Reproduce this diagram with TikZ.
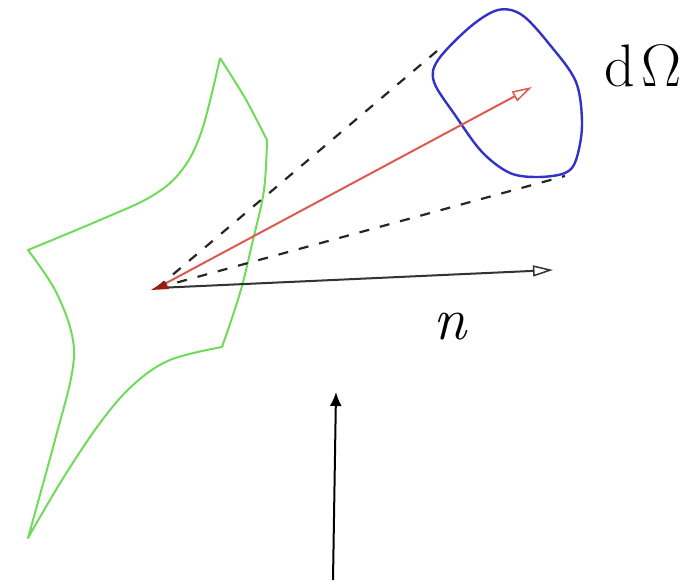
\documentclass[tikz,border=0pt]{standalone}
\usepackage{fontspec}
\usetikzlibrary{arrows.meta}
\definecolor{shapegreen}{RGB}{110,220,90}
\definecolor{loopblue}{RGB}{50,50,200}
\definecolor{rayred}{RGB}{220,90,80}
\definecolor{darkred}{RGB}{150,30,20}
\tikzset{
  surface/.style={draw=shapegreen, line width=2pt, line join=round},
  solidloop/.style={draw=loopblue, line width=2.4pt},
  cone/.style={draw=black!85, line width=2.2pt, dash pattern=on 10pt off 11pt},
  rayarrow/.style={draw=rayred, line width=2pt, -{Triangle[open, length=20pt, width=11pt, line width=1.5pt]}},
  normalarrow/.style={draw=black!80, line width=2pt, -{Triangle[open, length=20pt, width=11pt, line width=1.5pt, fill=white]}},
  pointer/.style={draw=black, line width=2pt, -{Latex[length=14pt, width=12pt]}},
  biglabel/.style={inner sep=0pt, font=\fontsize{60}{60}\selectfont},
}
\begin{document}
\begin{tikzpicture}[x=1pt, y=-1pt]
\useasboundingbox (0,0) rectangle (698,585);
% named points
\coordinate (O) at (157,288);
\coordinate (rayend) at (532,87);
\coordinate (nend) at (553,270);
\coordinate (coneA) at (437,51);
\coordinate (coneB) at (565,176);
\coordinate (pbot) at (333,580);
\coordinate (ptop) at (336,392);
% green surface
\draw[surface]
  plot[smooth, tension=0.5] coordinates {(220,58) (245,98) (267,140)}
  -- plot[smooth, tension=0.6] coordinates {(267,140) (264,190) (253,240) (240,293) (222,347)}
  -- plot[smooth, tension=0.6] coordinates {(222,347) (170,360) (133,385) (100,423) (62,480) (28,538)}
  -- plot[smooth, tension=0.6] coordinates {(28,538) (55,440) (72,373) (72,335) (55,290) (28,250)}
  -- plot[smooth, tension=0.6] coordinates {(28,250) (100,220) (152,196) (182,170) (202,130) (220,58)};
% blue solid angle loop
\draw[solidloop] plot[smooth cycle, tension=0.55] coordinates {
  (498,10) (522,15) (550,45) (576,82) (582,125) (576,160) (565,173)
  (538,177) (510,173) (482,152) (455,115) (434,82) (438,60) (470,27)};
% cone lines
\draw[cone] (O) -- (coneA);
\draw[cone] (O) -- (coneB);
% arrows
\draw[normalarrow] (O) -- (nend);
\draw[rayarrow] (O) -- (rayend);
\fill[darkred] (O) ++(-6,2) -- ++(14,-9) -- ++(4,8) -- cycle;
% labels
\node[biglabel] (dOmega) at (643,66) {d\kern0.1em Ω};
\node[biglabel, font=\fontsize{60}{60}\selectfont\itshape] (nlabel) at (450,327) {n};
% pointer arrow
\draw[pointer] (pbot) -- (ptop);
\end{tikzpicture}
\end{document}
